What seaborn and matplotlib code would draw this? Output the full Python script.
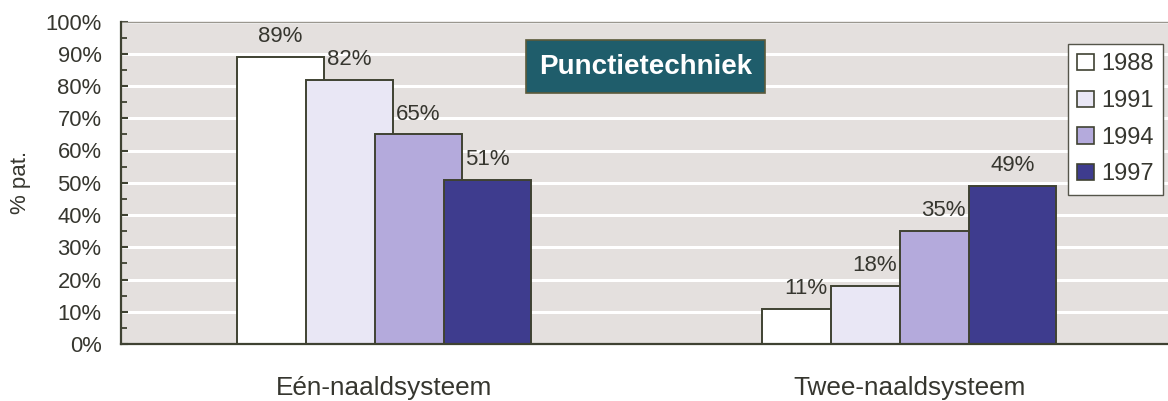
import matplotlib
matplotlib.use("Agg")
import matplotlib.pyplot as plt
from matplotlib.patches import Patch
from matplotlib.ticker import MultipleLocator
import seaborn as sns
import pandas as pd

# ---- data ----
systems = ["Eén-naaldsysteem", "Twee-naaldsysteem"]
years = ["1988", "1991", "1994", "1997"]
pct_1988 = [89, 11]
pct_1991 = [82, 18]
pct_1994 = [65, 35]
pct_1997 = [51, 49]
ytick_vals = [0, 10, 20, 30, 40, 50, 60, 70, 80, 90, 100]
ytick_labels = [f"{v}%" for v in ytick_vals]
title_text = "Punctietechniek"
ylabel_text = "% pat."

colors = ["#ffffff", "#e9e7f5", "#b4aadc", "#3e3c8e"]
edge = "#3f4232"
txt = "#36362f"

rows = []
for yr, vals in zip(years, [pct_1988, pct_1991, pct_1994, pct_1997]):
    for s, v in zip(systems, vals):
        rows.append({"system": s, "year": yr, "pct": v})
df = pd.DataFrame(rows)

sns.set_style("white")
plt.rcParams["font.family"] = ["Liberation Sans", "DejaVu Sans"]

W, H = 1168, 401
fig = plt.figure(figsize=(W / 100, H / 100), dpi=100)
ax_l, ax_r, ax_t, ax_b = 121, 1172, 21.5, 344
ax = fig.add_axes([ax_l / W, 1 - ax_b / H, (ax_r - ax_l) / W, (ax_b - ax_t) / H])
ax.set_facecolor("#e4e0de")

group_px = 526.0
step = 69 / group_px
bar_w = 87 / group_px
sns.barplot(data=df, x="system", y="pct", hue="year", order=systems, hue_order=years,
            palette=colors, width=step * 4, edgecolor=edge, linewidth=1.4,
            saturation=1, legend=False, ax=ax, zorder=3)

# widen bars so that they overlap (as in the original)
for cont in ax.containers:
    for p in cont:
        c = p.get_x() + p.get_width() / 2
        p.set_width(bar_w)
        p.set_x(c - bar_w / 2)
    ax.bar_label(cont, labels=[f"{v:.0f}%" for v in cont.datavalues],
                 padding=7, fontsize=16, color=txt)

ax.set_xlim(-0.5, 1.5 + (ax_r - 909.5 - 262.5) / group_px)
ax.set_ylim(0, 100)
ax.set_yticks(ytick_vals)
ax.set_yticklabels(ytick_labels)
ax.yaxis.set_minor_locator(MultipleLocator(5))
ax.tick_params(axis="y", which="major", direction="in", length=5, width=1.5,
               color=edge, pad=14, labelsize=15.8, labelcolor=txt, left=True)
ax.tick_params(axis="y", which="minor", direction="in", length=4, width=1.3,
               color=edge, left=True)
ax.tick_params(axis="x", length=0, pad=23, labelsize=18.8, labelcolor=txt)
ax.grid(axis="y", color="white", linewidth=2.2, zorder=0)
ax.set_axisbelow(True)
ax.set_xlabel("")
ax.set_ylabel(ylabel_text, fontsize=16, color=txt)
ax.yaxis.set_label_coords((31 - ax_l) / (ax_r - ax_l), 0.5)

for side in ["left", "bottom"]:
    ax.spines[side].set_color(edge)
    ax.spines[side].set_linewidth(1.6)
    ax.spines[side].set_zorder(5)
ax.spines["top"].set_color("#9a978f")
ax.spines["top"].set_linewidth(1.0)
ax.spines["right"].set_visible(False)

# title box
fig.text(645.5 / W, 1 - 66.5 / H, title_text, ha="center", va="center",
         fontsize=20, fontweight="bold", color="white",
         bbox=dict(boxstyle="square,pad=0.48", fc="#1f5d6b", ec="#5a5a3a", lw=1.2))

# legend
handles = [Patch(facecolor=c, edgecolor=edge, linewidth=1.2) for c in colors]
leg = ax.legend(handles, years, loc="upper left",
                bbox_to_anchor=(1068 / W, 1 - 44 / H), bbox_transform=fig.transFigure,
                borderaxespad=0, fontsize=17, handlelength=0.7, handleheight=0.7,
                handletextpad=0.3, labelspacing=0.62, borderpad=0.4,
                frameon=True, fancybox=False, framealpha=1)
leg.get_frame().set_edgecolor("#55554a")
leg.get_frame().set_linewidth(1.0)
for t in leg.get_texts():
    t.set_color(txt)

fig.savefig("out.png", dpi=100)
